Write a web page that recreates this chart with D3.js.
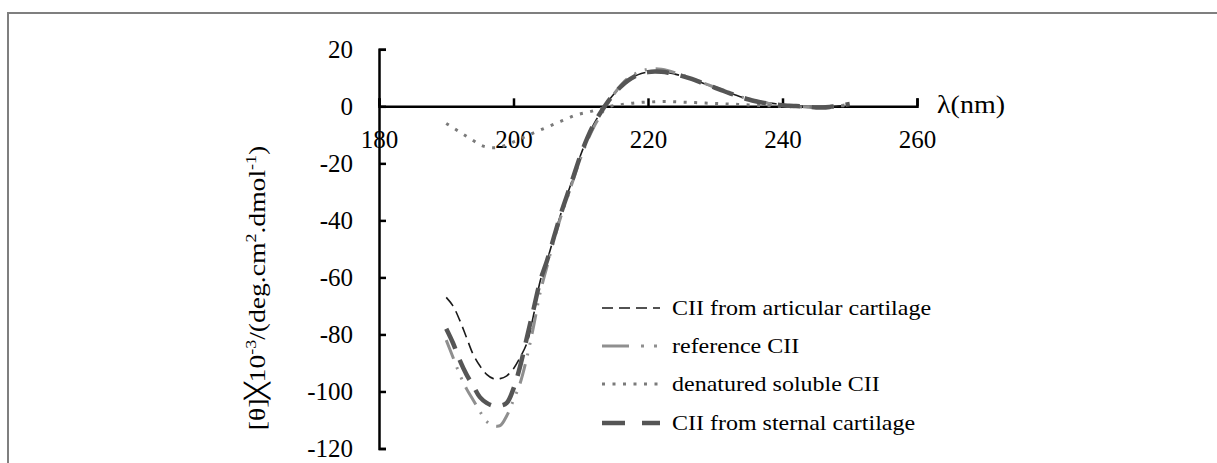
<!DOCTYPE html>
<html>
<head>
<meta charset="utf-8">
<script src="https://cdn.jsdelivr.net/npm/d3@7"></script>
<style>
  body { margin: 0; background: #fff; }
  svg { display: block; }
  .tick text, .lbl { font-family: "Liberation Serif", "Times New Roman", serif; fill: #000; }
</style>
</head>
<body>
<svg id="chart" width="1217" height="463"></svg>
<script>
// wavelength (nm), 1 nm steps
var wavelengths = d3.range(190, 251);

var articular = [-67,-70,-75,-81,-87,-91,-94,-95.5,-95.5,-94.5,
  -92,-88,-83,-73,-61,-54,-46,-38,-31,-24,
  -17,-11,-6,-2,1.5,4.5,7,9,10.5,11.5,
  12,12.2,12.1,11.8,11.3,10.7,10,9.2,8.3,7.4,
  6.5,5.6,4.8,4,3.2,2.6,2,1.5,1.2,0.9,
  0.6,0.4,0.2,0,-0.2,-0.3,-0.3,-0.2,0,0.3,0.6];

var reference = [-82,-88,-94,-99,-103,-107,-110.5,-112,-112,-108.5,
  -103,-97,-88,-77,-65,-56,-47,-39,-32,-25,
  -18,-12,-7,-3,1,4.5,7.5,9.8,11.3,12.4,
  13,13.2,13,12.5,11.8,11,10.2,9.3,8.4,7.5,
  6.6,5.7,4.8,4,3.2,2.5,1.9,1.4,1,0.7,
  0.4,0.2,0,-0.1,-0.3,-0.4,-0.4,-0.3,0,0.4,0.8];

var denatured = [-6,-7.5,-9,-10.5,-12,-13.5,-14.3,-14.5,-14.3,-13.5,
  -12.5,-11.5,-10.3,-9.3,-8.3,-7.3,-6.3,-5.3,-4.3,-3.3,
  -2.6,-2.1,-1.5,-0.8,-0.2,0.3,0.6,0.9,1.2,1.4,
  1.5,1.6,1.7,1.7,1.6,1.5,1.4,1.3,1.2,1.1,
  1,0.9,0.8,0.7,0.6,0.5,0.4,0.3,0.2,0.1,
  0,-0.1,-0.1,-0.2,-0.2,-0.2,-0.1,0,0.1,0.2,0.3];

var sternal = [-78,-83,-89,-94,-98,-102,-104,-105,-105,-104,
  -99,-91,-81,-71,-61,-54,-46,-38,-31,-24,
  -17,-11,-6,-2,1.5,4.5,7,9,10.5,11.5,
  12,12.2,12.1,11.8,11.3,10.7,10,9.2,8.3,7.4,
  6.5,5.6,4.7,3.9,3.1,2.4,1.8,1.3,0.9,0.6,
  0.4,0.2,0.1,0,-0.2,-0.4,-0.4,-0.2,0.1,0.4,0.8];

var seriesNames = ["CII from articular cartilage", "reference CII", "denatured soluble CII", "CII from sternal cartilage"];
var xTicks = [180, 200, 220, 240, 260];
var yTicks = [20, 0, -20, -40, -60, -80, -100, -120];

var styles = [
  { stroke: "#1a1a1a", width: 1.6, dash: "11,6" },
  { stroke: "#8f8f8f", width: 3, dash: "20,9,2,9,2,9" },
  { stroke: "#7a7a7a", width: 3, dash: "3,7.5" },
  { stroke: "#555555", width: 4.5, dash: "22,12" }
];
var data = [articular, reference, denatured, sternal];

var svg = d3.select("#chart");

// frame
svg.append("path")
  .attr("d", "M8,463 L8,13 L1217,13")
  .attr("fill", "none")
  .attr("stroke", "#7f7f7f")
  .attr("stroke-width", 2);

var x = d3.scaleLinear().domain([180, 260]).range([379, 917]);
var y = d3.scaleLinear().domain([-120, 20]).range([448.5, 49.3]);

var line = d3.line()
  .x(function(d) { return x(d[0]); })
  .y(function(d) { return y(d[1]); })
  .curve(d3.curveCatmullRom);

// plain hyphen for negatives, like the original
var fmt = function(d) { return String(d); };

// y axis
var yAxis = svg.append("g")
  .attr("transform", "translate(" + x(180) + ",0)")
  .call(d3.axisLeft(y).tickValues(yTicks).tickFormat(fmt).tickSize(-7).tickSizeOuter(-7).tickPadding(26));

// x axis at zero
var xAxis = svg.append("g")
  .attr("transform", "translate(0," + y(0) + ")")
  .call(d3.axisBottom(x).tickValues(xTicks).tickFormat(fmt).tickSize(-8).tickSizeOuter(-8).tickPadding(24));

[yAxis, xAxis].forEach(function(g) {
  g.select(".domain").attr("stroke", "#000").attr("stroke-width", 2.5);
  g.selectAll(".tick line").attr("stroke", "#000").attr("stroke-width", 2.5);
  g.selectAll(".tick text").style("font-size", "25px");
});

// curves
data.forEach(function(vals, i) {
  var pts = wavelengths.map(function(w, j) { return [w, vals[j]]; });
  svg.append("path")
    .datum(pts)
    .attr("d", line)
    .attr("fill", "none")
    .attr("stroke", styles[i].stroke)
    .attr("stroke-width", styles[i].width)
    .attr("stroke-dasharray", styles[i].dash);
});

// axis labels
svg.append("text")
  .attr("class", "lbl")
  .attr("transform", "translate(937," + (y(0) + 7) + ") scale(1.12,1)")
  .style("font-size", "25px")
  .text("λ(nm)");

var yl = svg.append("text")
  .attr("class", "lbl")
  .attr("transform", "translate(265,288) rotate(-90) scale(1.2,1)")
  .attr("text-anchor", "middle")
  .style("font-size", "23px");
yl.append("tspan").text("[θ]");
yl.append("tspan").style("font-family", "DejaVu Sans").style("font-weight", "200").text("╳");
yl.append("tspan").text("10");
yl.append("tspan").attr("dy", -9).style("font-size", "15px").text("-3");
yl.append("tspan").attr("dy", 9).text("/(deg.cm");
yl.append("tspan").attr("dy", -9).style("font-size", "15px").text("2");
yl.append("tspan").attr("dy", 9).text(".dmol");
yl.append("tspan").attr("dy", -9).style("font-size", "15px").text("-1");
yl.append("tspan").attr("dy", 9).text(")");

// legend
var legendY = [308, 346, 384, 423];
seriesNames.forEach(function(name, i) {
  svg.append("line")
    .attr("x1", 602).attr("x2", 660)
    .attr("y1", legendY[i]).attr("y2", legendY[i])
    .attr("stroke", styles[i].stroke)
    .attr("stroke-width", styles[i].width)
    .attr("stroke-dasharray", i == 1 ? "27,12,3,10,3,10" : (i == 3 ? "23,17" : styles[i].dash));
  svg.append("text")
    .attr("class", "lbl")
    .attr("transform", "translate(672," + (legendY[i] + 7) + ") scale(1.2,1)")
    .style("font-size", "20px")
    .text(name);
});
</script>
</body>
</html>
